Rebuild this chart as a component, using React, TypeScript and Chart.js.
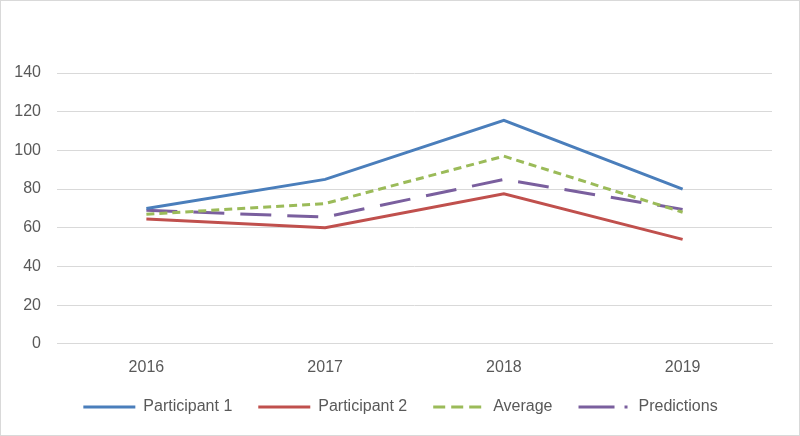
import React, { useEffect, useRef } from "react";
import { Chart, registerables } from "chart.js";

Chart.register(...registerables);

const categories = ["2016", "2017", "2018", "2019"];
const participant1 = [70, 85, 115.5, 80];
const participant2 = [64.5, 60, 77.5, 54];
const average = [67, 72.5, 97, 68];
const predictions = [69, 65.5, 85, 69.5];
const yTicks = { min: 0, max: 140, step: 20 };

const legendDashes: Record<string, number[]> = {
  Average: [12, 6],
  Predictions: [36, 10, 3, 10],
};

const legendShift = {
  id: "legendShift",
  afterLayout(chart: any) {
    const lg = chart.legend;
    if (!lg) return;
    const dy = -18;
    const dx = 14;
    lg.top += dy;
    lg.bottom = lg.top + 80;
    lg.height = 80;
    lg.left += dx;
    lg.right += dx;
  },
};

export default function App() {
  const ref = useRef<HTMLCanvasElement | null>(null);
  useEffect(() => {
    document.body.style.margin = "0";
    const ctx = ref.current!;
    const font = { family: "'Liberation Sans', Arial, sans-serif", size: 16 };
    const chart = new Chart(ctx, {
      type: "line",
      plugins: [legendShift],
      data: {
        labels: categories,
        datasets: [
          { label: "Participant 1", data: participant1, borderColor: "#4a7ebb", backgroundColor: "#4a7ebb", borderWidth: 3 },
          { label: "Participant 2", data: participant2, borderColor: "#c0504d", backgroundColor: "#c0504d", borderWidth: 3 },
          { label: "Average", data: average, borderColor: "#9bbb59", backgroundColor: "#9bbb59", borderWidth: 3, borderDash: [8, 5] },
          { label: "Predictions", data: predictions, borderColor: "#7a5f9e", backgroundColor: "#7a5f9e", borderWidth: 3, borderDash: [31, 16] },
        ],
      },
      options: {
        animation: false,
        responsive: false,
        maintainAspectRatio: false,
        elements: { point: { radius: 0 }, line: { tension: 0 } },
        layout: { padding: { top: 72, left: 0, right: 27, bottom: 9 } },
        plugins: {
          tooltip: { enabled: false },
          legend: {
            position: "bottom",
            maxHeight: 35,
            labels: {
              usePointStyle: true,
              pointStyle: "line",
              pointStyleWidth: 52,
              boxHeight: 14,
              padding: 26,
              color: "#595959",
              font,
              generateLabels: (c: any) => {
                const items = Chart.defaults.plugins.legend.labels.generateLabels(c);
                return items.map((it: any) => ({
                  ...it,
                  lineDash: legendDashes[it.text] || [],
                  lineWidth: 3,
                  pointStyle: "line",
                }));
              },
            },
          },
        },
        scales: {
          x: {
            offset: true,
            grid: { display: false, drawTicks: false },
            border: { display: true, color: "#d9d9d9" },
            ticks: { color: "#595959", font, padding: 14 },
          },
          y: {
            min: yTicks.min,
            max: yTicks.max,
            ticks: { stepSize: yTicks.step, color: "#595959", font, padding: 16 },
            grid: { color: "#d9d9d9", drawTicks: false },
            border: { display: false },
            afterFit: (axis: any) => {
              axis.width = 56;
            },
          },
        },
      },
    });
    return () => chart.destroy();
  }, []);
  return (
    <div style={{ position: "relative", width: 800, height: 436, boxSizing: "border-box", border: "1px solid #d9d9d9", background: "#fff" }}>
      <canvas ref={ref} width={798} height={434} style={{ display: "block" }} />
    </div>
  );
}
